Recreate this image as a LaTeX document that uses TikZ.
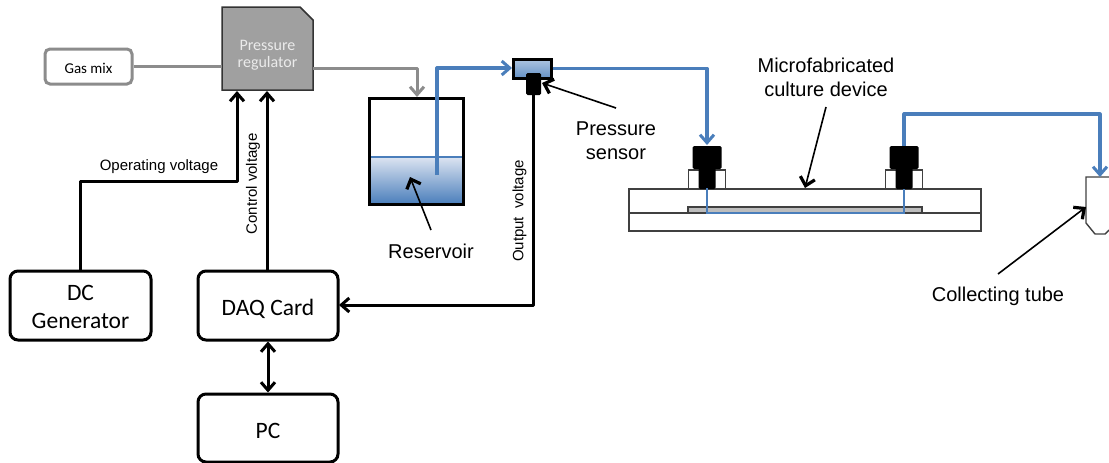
\documentclass[tikz,border=0pt]{standalone}
\usepackage{fontspec}
\setmainfont{Liberation Sans}
\newfontfamily\boxfont{Carlito}
\usepackage{xcolor}
\usepackage{tikz}
\usetikzlibrary{arrows.meta,positioning,calc}

\definecolor{pipeblue}{HTML}{4A7EBB}
\definecolor{waterlight}{HTML}{DCE4F1}
\definecolor{gasgray}{HTML}{8C8C8C}
\definecolor{reggray}{HTML}{A0A0A0}
\definecolor{chipgray}{HTML}{BDBDBD}

\newcommand{\lowertext}[2]{\raisebox{-#1pt}[\height][\depth]{#2}}

\tikzset{
    openhead/.style={-{Straight Barb[length=8pt,width=14pt,line width=3pt]}},
    blockbox/.style={draw,line width=3pt,rounded corners=8pt,align=center,font=\boxfont\fontsize{23.5}{28}\selectfont,inner sep=0pt},
    wirelabel/.style={font=\fontsize{15}{17}\selectfont,inner sep=0pt},
    notelabel/.style={font=\fontsize{20}{24}\selectfont,align=center,inner sep=0pt},
    blackline/.style={draw=black,line width=3pt,line join=round},
    pipeline/.style={draw=pipeblue,line width=3.2pt,line join=round},
    gasline/.style={draw=gasgray,line width=3pt,line join=round},
    pointer/.style={draw=black,line width=1.6pt,-{Straight Barb[length=8pt,width=15pt,line width=3.2pt]}},
    fitbolt/.style={fill=black,rounded corners=1.5pt},
    thinbox/.style={draw=black!75,line width=1.4pt},
}

\begin{document}
\begin{tikzpicture}[x=1pt,y=-1pt]
    \useasboundingbox (0,0) rectangle (1109,463);

    % blocks on the left
    \node[blockbox,draw=gasgray,rounded corners=5pt,minimum width=87pt,minimum height=35pt,font=\boxfont\fontsize{15}{17}\selectfont] (gasmix) at (88.5,66.5) {\lowertext{2}{Gas mix}};
    \node[blockbox,minimum width=141pt,minimum height=69pt] (dcgen) at (80.5,305.5) {\lowertext{1}{DC}\\\lowertext{1}{Generator}};
    \node[blockbox,minimum width=140pt,minimum height=69pt] (daq) at (268,305.5) {\lowertext{3}{DAQ Card}};
    \node[blockbox,minimum width=140pt,minimum height=68pt] (pc) at (268,428) {\lowertext{3}{PC}};

    % pressure regulator
    \draw[fill=reggray,draw=black!80,line width=1.5pt] (222,7) -- (300,7) -- (313,20) -- (313,90) -- (222,90) -- cycle;
    \node[minimum width=91pt,minimum height=83pt,inner sep=0pt,align=center,text=white!92!black,font=\boxfont\fontsize{16}{17}\selectfont] (reg) at (267.5,55) {Pressure\\regulator};

    % reservoir
    \shade[top color=waterlight,bottom color=pipeblue] (369,157) rectangle (463,204);
    \draw[pipeblue,line width=1.2pt] (369,157) -- (463,157);
    \node[draw,line width=3pt,minimum width=94pt,minimum height=106pt,inner sep=0pt] (reservoir) at (416,151) {};

    % pressure sensor
    \shade[top color=pipeblue!45,bottom color=pipeblue!85] (513,59) rectangle (551,78);
    \node[draw,line width=3pt,minimum width=38pt,minimum height=19pt,inner sep=0pt] (sensor) at (532,68.5) {};
    \node[fitbolt,minimum width=15pt,minimum height=22pt,inner sep=0pt] (probe) at (533.5,84) {};

    % culture device
    \node[thinbox,minimum width=352pt,minimum height=24pt,inner sep=0pt] (chiptop) at (805,201) {};
    \node[thinbox,minimum width=352pt,minimum height=18pt,inner sep=0pt] (chipbase) at (805,222) {};
    \node[thinbox,fill=chipgray,minimum width=234pt,minimum height=6pt,inner sep=0pt] (channel) at (805,210) {};
    \foreach \fx/\fname in {707/inlet,904/outlet}{
        \node[thinbox,minimum width=37pt,minimum height=19pt,inner sep=0pt] (\fname seat) at (\fx,179.5) {};
        \fill[fitbolt] ($(\fx,168)+(-8.5,0)$) rectangle ($(\fx,189)+(8.5,0)$);
        \node[fitbolt,minimum width=29pt,minimum height=23pt,inner sep=0pt] (\fname) at (\fx,157.5) {};
    }

    % collecting tube
    \draw[draw=black!75,line width=1.4pt] (1109,177) -- (1086,177) -- (1086,223) -- (1095,234) -- (1105,234) -- (1109,230);
    \coordinate (tubetop) at (1100,177);
    \coordinate (tubeside) at (1086,207);

    % gas lines
    \draw[gasline] (gasmix) -- (gasmix-|reg.west);
    \coordinate (regout) at (313,68);
    \coordinate (restop) at (417,97);
    \draw[gasline,openhead] (regout) -| (restop);

    % electrical lines
    \coordinate (opin) at (237,91);
    \coordinate (ctlin) at (267,91);
    \draw[blackline,openhead] (dcgen.north) |- (237,181) -- (opin);
    \draw[blackline,openhead] (ctlin|-daq.north) -- (ctlin);
    \draw[blackline,{Straight Barb[length=8pt,width=14pt,line width=3pt]}-{Straight Barb[length=8pt,width=14pt,line width=3pt]}] (daq.south) -- (pc.north);
    \coordinate (daqin) at (339,305);
    \draw[blackline,openhead] (probe.south) |- (daqin);

    % tubing
    \coordinate (dip) at (437,175);
    \coordinate (sensorin) at (512,68);
    \draw[pipeline,openhead] (dip) |- (sensorin);
    \coordinate (inletin) at (707,145);
    \draw[pipeline,openhead] (sensor.east) -| (inletin);
    \draw[pipeline,openhead] (outlet.north) |- (1100,114) -- (tubetop);
    \draw[pipeblue,line width=1.6pt] (inlet.south|-chiptop.north) -- (707,213) -- (904,213) -- (904,189);

    % pointers
    \coordinate (devtail) at (826,107);
    \coordinate (devtip) at (805,188);
    \draw[pointer] (devtail) -- (devtip);
    \coordinate (sentail) at (616,108);
    \coordinate (sentip) at (542,83);
    \draw[pointer] (sentail) -- (sentip);
    \coordinate (restail) at (431,230);
    \coordinate (restip) at (410,177);
    \draw[pointer] (restail) -- (restip);
    \coordinate (tubetail) at (998,274);
    \draw[pointer] (tubetail) -- (tubeside);

    % labels
    \node[wirelabel] (oplabel) at (159,167) {Operating voltage};
    \node[wirelabel,rotate=90] (ctllabel) at (253,184) {Control voltage};
    \node[wirelabel,rotate=90] (outlabel) at (519.5,211) {Output\ \ voltage};
    \node[notelabel] (reslabel) at (431,251) {Reservoir};
    \node[notelabel] (senlabel) at (616,141) {Pressure\\sensor};
    \node[notelabel] (devlabel) at (826,77.5) {Microfabricated\\culture device};
    \node[notelabel] (tubelabel) at (998,296) {Collecting tube};
\end{tikzpicture}
\end{document}
